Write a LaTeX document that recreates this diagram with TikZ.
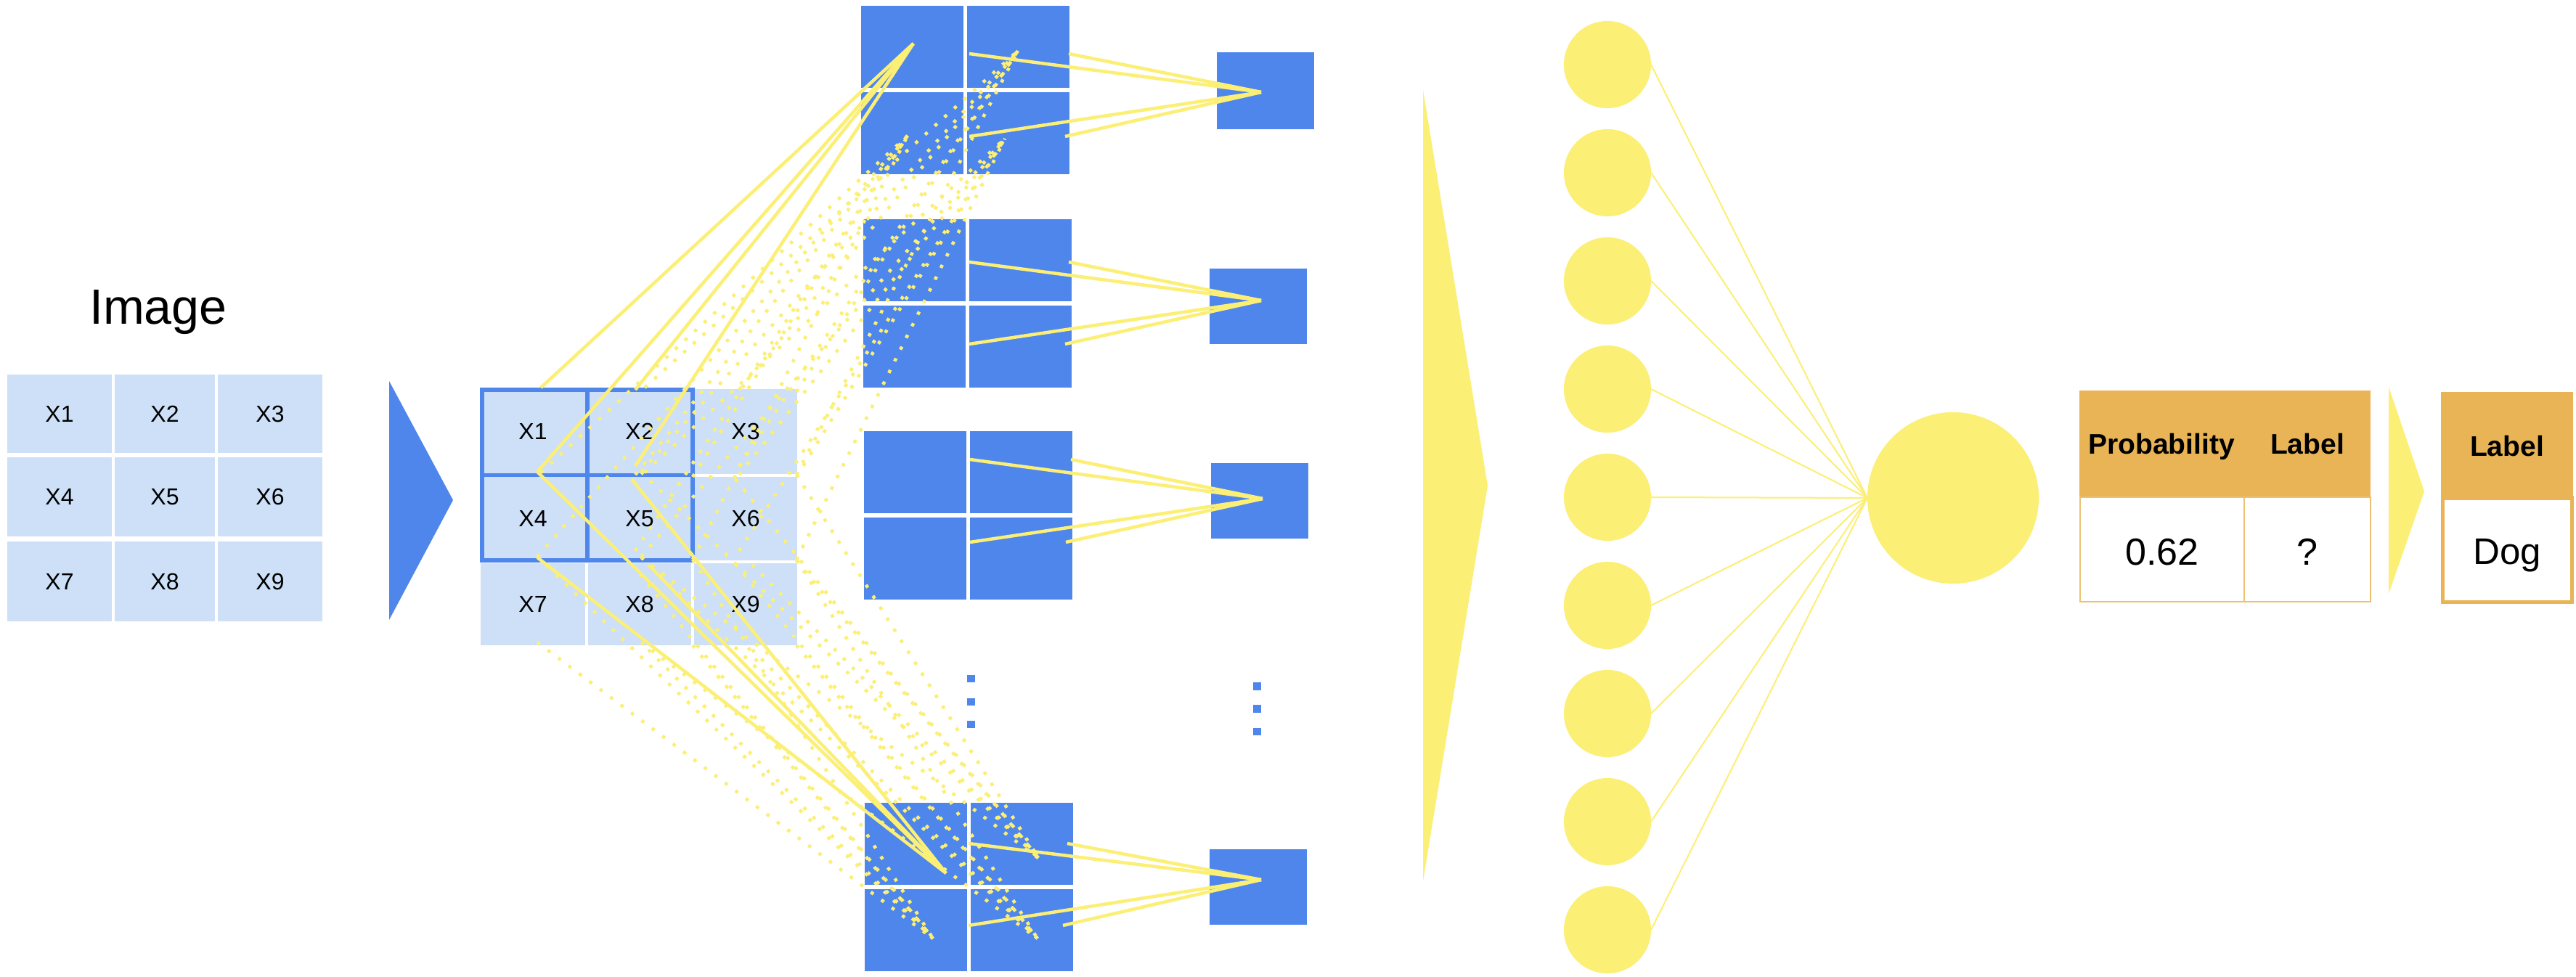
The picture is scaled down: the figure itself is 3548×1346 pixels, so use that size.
\documentclass[tikz,border=0pt]{standalone}
\usepackage{fontspec}
\setmainfont{Liberation Sans}
\definecolor{bluec}{HTML}{4F86EC}
\definecolor{lightb}{HTML}{CDE0F7}
\definecolor{yel}{HTML}{FBEF76}
\definecolor{orng}{HTML}{E8B455}
\definecolor{orngl}{HTML}{ECC272}
\newcommand\rectnode[7]{%
  \pgfmathsetmacro\rnw{((#5)-(#3))*0.01}%
  \pgfmathsetmacro\rnh{((#6)-(#4))*0.01}%
  \node[#1, minimum width=\rnw cm, minimum height=\rnh cm] (#2) at ({((#3)+(#5))/2},{((#4)+(#6))/2}) {#7};}
\newcommand\fmap[3]{%
  \rectnode{fmcell}{#1tl}{#2}{#3}{#2+141}{#3+113}{}%
  \rectnode{fmcell}{#1tr}{#2+146}{#3}{#2+287}{#3+113}{}%
  \rectnode{fmcell}{#1bl}{#2}{#3+119}{#2+141}{#3+232}{}%
  \rectnode{fmcell}{#1br}{#2+146}{#3+119}{#2+287}{#3+232}{}}
\tikzset{
  box/.style={inner sep=0pt, outer sep=0pt, draw=none},
  lcell/.style={box, fill=lightb, font=\fontsize{9.1}{11}\selectfont},
  fmcell/.style={box, fill=bluec},
  poolbox/.style={box, fill=bluec},
  vdot/.style={box, fill=bluec},
  solidline/.style={yel, line width=0.045cm},
  dotline/.style={yel, line width=1.3pt, dash pattern=on 1.3pt off 3.8pt},
  thinline/.style={yel, line width=0.02cm},
  neuron/.style={circle, fill=yel, inner sep=0pt, outer sep=0pt, minimum size=1.2cm},
  hdrcell/.style={box, fill=orng},
  bodycell/.style={box, fill=white, draw=orngl, line width=0.02cm},
  hdrtext/.style={anchor=base, font=\bfseries\fontsize{11.1}{13}\selectfont},
  bodytext/.style={anchor=base, font=\fontsize{14.8}{17}\selectfont},
}
\begin{document}
\begin{tikzpicture}[x=0.01cm, y=-0.01cm]
\useasboundingbox (0,0) rectangle (3548,1346);
\fill[white] (0,0) rectangle (3548,1346);

% ---------- input image ----------
\node[anchor=base, font=\fontsize{19.4}{23}\selectfont] (imgtitle) at (218,447) {Image};
\rectnode{lcell}{a1}{10}{516}{154}{624}{X1}
\rectnode{lcell}{a2}{158}{516}{296}{624}{X2}
\rectnode{lcell}{a3}{300}{516}{444}{624}{X3}
\rectnode{lcell}{a4}{10}{630}{154}{739}{X4}
\rectnode{lcell}{a5}{158}{630}{296}{739}{X5}
\rectnode{lcell}{a6}{300}{630}{444}{739}{X6}
\rectnode{lcell}{a7}{10}{746}{154}{856}{X7}
\rectnode{lcell}{a8}{158}{746}{296}{856}{X8}
\rectnode{lcell}{a9}{300}{746}{444}{856}{X9}

\fill[bluec] (536,525) -- (536,854) -- (624,689) -- cycle;

% ---------- convolution input grid ----------
\rectnode{lcell}{b1}{662}{536}{806}{653}{X1}
\rectnode{lcell}{b2}{810}{536}{952}{653}{X2}
\rectnode{lcell}{b3}{956}{536}{1098}{653}{X3}
\rectnode{lcell}{b4}{662}{657}{806}{772}{X4}
\rectnode{lcell}{b5}{810}{657}{952}{772}{X5}
\rectnode{lcell}{b6}{956}{657}{1098}{772}{X6}
\rectnode{lcell}{b7}{662}{776}{806}{889}{X7}
\rectnode{lcell}{b8}{810}{776}{952}{889}{X8}
\rectnode{lcell}{b9}{956}{776}{1098}{889}{X9}
\rectnode{box, draw=bluec, line width=0.055cm}{rf}{664}{537}{954}{772}{}
\draw[bluec, line width=0.058cm] (rf.north) -- (rf.south);
\draw[bluec, line width=0.058cm] (rf.west) -- (rf.east);

% ---------- feature maps ----------
\fmap{fa}{1186}{8}
\fmap{fb}{1189}{302}
\fmap{fc}{1190}{594}
\fmap{fd}{1191}{1106}

% ellipsis dots
\rectnode{vdot}{v1}{1332}{930}{1343}{940}{}
\rectnode{vdot}{v2}{1332}{962}{1343}{972}{}
\rectnode{vdot}{v3}{1332}{993}{1343}{1003}{}
\rectnode{vdot}{w1}{1726}{940}{1737}{951}{}
\rectnode{vdot}{w2}{1726}{971}{1737}{982}{}
\rectnode{vdot}{w3}{1726}{1003}{1737}{1013}{}

% ---------- pooled boxes ----------
\rectnode{poolbox}{pa}{1676}{72}{1810}{178}{}
\rectnode{poolbox}{pb}{1666}{370}{1800}{474}{}
\rectnode{poolbox}{pc}{1668}{638}{1802}{742}{}
\rectnode{poolbox}{pd}{1666}{1170}{1800}{1274}{}

% ---------- dotted receptive-field lines ----------
\coordinate (ka-tr) at (1402,70);
\coordinate (ka-bl) at (1250,187);
\coordinate (ka-br) at (1384,191);
\coordinate (kd-tr) at (1431,1183);
\coordinate (kd-bl) at (1285,1293);
\coordinate (kd-br) at (1429,1293);
\foreach \dx/\dy/\tg in {143/0/ka-tr, 0/117/ka-bl, 143/117/ka-br}{
  \foreach \sx/\sy in {745/534, 740/650, 875/537, 875/642, 954/540, 954/654}{
    \coordinate (ds) at ({\sx+\dx},{\sy+\dy});
    \draw[dotline] (ds) -- (\tg);
  }
}
\foreach \dx/\dy/\tg in {143/0/kd-tr, 0/117/kd-bl, 143/117/kd-br}{
  \foreach \sx/\sy in {740/650, 740/768, 870/660, 893/778, 954/654, 954/772}{
    \coordinate (ds) at ({\sx+\dx},{\sy+\dy});
    \draw[dotline] (ds) -- (\tg);
  }
}

% ---------- solid convolution lines ----------
\coordinate (ka-tl) at (1258,60);
\coordinate (kd-tl) at (1303,1203);
\foreach \sx/\sy in {745/534, 740/650, 875/537, 875/642}{
  \coordinate (ss) at (\sx,\sy);
  \draw[solidline] (ss) -- (ka-tl);
}
\foreach \sx/\sy in {740/650, 740/768, 870/660, 893/778}{
  \coordinate (ss) at (\sx,\sy);
  \draw[solidline] (ss) -- (kd-tl);
}

% ---------- pooling lines ----------
\coordinate (qa) at (1737,127);
\coordinate (qb) at (1737,414);
\coordinate (qc) at (1739,687);
\coordinate (qd) at (1737,1212);
\foreach \sx/\sy in {1335/74, 1472/74, 1335/188, 1467/188}{
  \coordinate (ps) at (\sx,\sy); \draw[solidline] (ps) -- (qa);}
\foreach \sx/\sy in {1335/361, 1472/361, 1335/474, 1467/474}{
  \coordinate (ps) at (\sx,\sy); \draw[solidline] (ps) -- (qb);}
\foreach \sx/\sy in {1336/633, 1475/633, 1336/747, 1468/747}{
  \coordinate (ps) at (\sx,\sy); \draw[solidline] (ps) -- (qc);}
\foreach \sx/\sy in {1334/1162, 1470/1162, 1334/1275, 1464/1275}{
  \coordinate (ps) at (\sx,\sy); \draw[solidline] (ps) -- (qd);}

% ---------- flatten arrow ----------
\fill[yel] (1960,124) -- (1960,1214) -- (2049,669) -- cycle;

% ---------- dense layer ----------
\node[neuron, minimum size=2.36cm] (big) at (2690,686) {};
\foreach \i in {1,...,9}{
  \node[neuron] (n\i) at (2214,{89+149*(\i-1)}) {};
  \draw[thinline] (n\i.east) -- (big.west);
}

% ---------- output table ----------
\rectnode{hdrcell}{th}{2864}{538}{3265}{684}{}
\rectnode{bodycell}{tp}{2865}{685}{3091}{829}{}
\rectnode{bodycell}{tl}{3091}{685}{3265}{829}{}
\node[hdrtext] (hprob) at (2977,625) {Probability};
\node[hdrtext] (hlab) at (3178,625) {Label};
\node[bodytext] (vprob) at (2978,778) {0.62};
\node[bodytext] (vlab) at (3178,778) {?};

\fill[yel] (3290,533) -- (3290,818) -- (3339,677) -- cycle;

\rectnode{hdrcell}{lh}{3362}{540}{3544}{684}{}
\rectnode{box, fill=white, draw=orng, line width=0.05cm}{lb}{3364}{686}{3542}{829}{}
\node[hdrtext] (lhtxt) at (3453,628) {Label};
\node[bodytext, font=\fontsize{14.5}{17}\selectfont] (dog) at (3453,777) {Dog};
\end{tikzpicture}
\end{document}
